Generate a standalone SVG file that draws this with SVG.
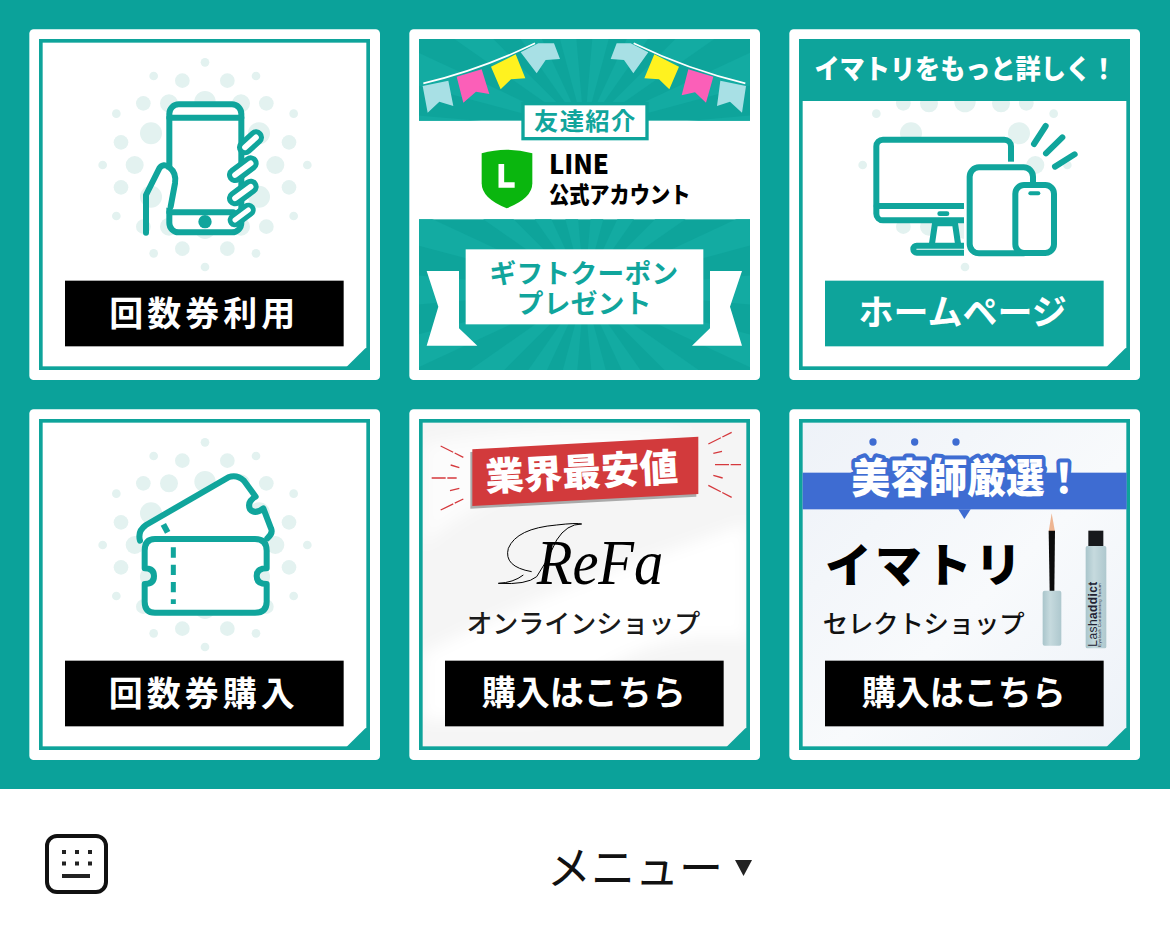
<svg xmlns="http://www.w3.org/2000/svg" width="1170" height="944" viewBox="0 0 1170 944">
<style>
text{font-family:"Noto Sans CJK JP","Noto Sans CJK SC",sans-serif;font-weight:700;text-anchor:middle}
.card{fill:#fff}
.frame{fill:none;stroke:#0ea49b;stroke-width:11}
.tab{fill:#0ea49b}
.ic{fill:none;stroke:#10a59c;stroke-width:18;stroke-linecap:round;stroke-linejoin:round}
.icw{fill:#fff;stroke:#10a59c;stroke-width:18;stroke-linecap:round;stroke-linejoin:round}
.d{fill:#e3f2f0}
.btn{fill:#000}
.btnt{fill:#fff;font-size:102px}
.ray{fill:#13aba2}
.t{fill:#10a59c}
.flag-b{fill:#a8e0e5}.flag-p{fill:#fb5fb8}.flag-y{fill:#fff21f}
.red{fill:none;stroke:#d5393d;stroke-width:4}
.f1{stroke:#10a59c;stroke-width:48;stroke-linecap:round;fill:none}
.f2{stroke:#fff;stroke-width:17;stroke-linecap:round;fill:none}
</style>
<defs>
<g id="cardbase">
<rect class="card" x="28" y="28" width="1052" height="1052" rx="13"/>
</g>
<path id="corner" d="M980,1040L1036,985L1050,982V1050H980Z" class="tab"/>
<g id="dots" class="d">
<circle cx="555" cy="127" r="13"/><circle cx="401" cy="168" r="13"/><circle cx="708" cy="168" r="13"/><circle cx="289" cy="281" r="13"/><circle cx="821" cy="281" r="13"/><circle cx="248" cy="435" r="13"/><circle cx="862" cy="435" r="13"/><circle cx="289" cy="588" r="13"/><circle cx="821" cy="588" r="13"/><circle cx="401" cy="700" r="13"/><circle cx="708" cy="700" r="13"/><circle cx="555" cy="741" r="13"/>
<circle cx="487" cy="182" r="22"/><circle cx="622" cy="182" r="22"/><circle cx="487" cy="686" r="22"/><circle cx="622" cy="686" r="22"/><circle cx="370" cy="250" r="22"/><circle cx="739" cy="250" r="22"/><circle cx="303" cy="367" r="22"/><circle cx="807" cy="367" r="22"/><circle cx="303" cy="502" r="22"/><circle cx="807" cy="502" r="22"/><circle cx="370" cy="620" r="22"/><circle cx="739" cy="620" r="22"/>
<circle cx="447" cy="250" r="27"/><circle cx="555" cy="245" r="32"/><circle cx="663" cy="250" r="27"/><circle cx="344" cy="435" r="27"/><circle cx="766" cy="435" r="27"/><circle cx="447" cy="620" r="27"/><circle cx="555" cy="625" r="32"/><circle cx="663" cy="620" r="27"/>
<circle cx="393" cy="340" r="33"/><circle cx="717" cy="340" r="33"/><circle cx="393" cy="530" r="33"/><circle cx="717" cy="530" r="33"/>
</g>
<path id="r" d="M0,0L800,-70V70Z" class="ray"/>
<g id="rays"><use href="#r"/><use href="#r" transform="rotate(20)"/><use href="#r" transform="rotate(40)"/><use href="#r" transform="rotate(60)"/><use href="#r" transform="rotate(80)"/><use href="#r" transform="rotate(100)"/><use href="#r" transform="rotate(120)"/><use href="#r" transform="rotate(140)"/><use href="#r" transform="rotate(160)"/><use href="#r" transform="rotate(180)"/><use href="#r" transform="rotate(200)"/><use href="#r" transform="rotate(220)"/><use href="#r" transform="rotate(240)"/><use href="#r" transform="rotate(260)"/><use href="#r" transform="rotate(280)"/><use href="#r" transform="rotate(300)"/><use href="#r" transform="rotate(320)"/><use href="#r" transform="rotate(340)"/></g>
<clipPath id="ct"><rect x="57" y="57" width="993" height="245"/></clipPath>
<clipPath id="cb"><rect x="57" y="598" width="993" height="452"/></clipPath>
<clipPath id="c5"><rect x="62" y="62" width="983" height="983"/></clipPath>
<linearGradient id="g6" x1="0" y1="0" x2="1" y2="1"><stop offset="0" stop-color="#eef2f8"/><stop offset=".55" stop-color="#f8fafc"/><stop offset="1" stop-color="#edf2f8"/></linearGradient>
<linearGradient id="b6" x1="0" y1="0" x2="1" y2="0"><stop offset="0" stop-color="#a9c5cb"/><stop offset=".4" stop-color="#c6dade"/><stop offset="1" stop-color="#aec8ce"/></linearGradient>
<filter id="soft" x="-20%" y="-20%" width="140%" height="140%"><feGaussianBlur stdDeviation="22"/></filter>
</defs>
<rect id="background" width="1170" height="789" fill="#0ba29a"/>
<rect id="footer" y="789" width="1170" height="155" fill="#fff"/>

<g id="card-use" transform="translate(20,20) scale(.33333)">
<use href="#cardbase"/>
<rect class="frame" x="62.500" y="62.500" width="982" height="982"/><use href="#corner"/>
<use href="#dots"/>
<rect class="ic" x="448" y="253" width="216" height="384" rx="28" style="fill:#fff"/>
<path class="ic" d="M448,293H664M448,577H640"/>
<circle cx="555" cy="605" r="20" fill="#10a59c"/>
<rect x="438" y="448" width="24" height="115" fill="#fff"/>
<path class="ic" d="M378,638V525L418,445Q430,428 448,442Q470,458 465,490L452,560"/>
<path class="f1" d="M675,382L708,352"/><path class="f2" d="M675,382L708,352"/>
<path class="f1" d="M645,465L692,430"/><path class="f2" d="M645,465L692,430"/>
<path class="f1" d="M645,535L692,500"/><path class="f2" d="M645,535L692,500"/>
<path class="f1" d="M645,600L685,570" style="stroke-width:44"/><path class="f2" d="M645,600L685,570" style="stroke-width:15"/>
<rect class="btn" x="135" y="782" width="836" height="197"/>
<text class="btnt" x="553" y="917" letter-spacing="12">回数券利用</text>
</g>

<g id="card-line" transform="translate(400,20) scale(.33333)">
<use href="#cardbase"/>
<rect class="tab" x="57" y="57" width="993" height="245"/>
<g clip-path="url(#ct)"><use href="#rays" transform="translate(553,330)"/></g>
<rect class="tab" x="57" y="598" width="993" height="452"/>
<g clip-path="url(#cb)"><use href="#rays" transform="translate(553,810)"/></g>
<path d="M70,190Q240,150 405,70" fill="none" stroke="#fff" stroke-width="5"/><path d="M1036,190Q866,150 701,70" fill="none" stroke="#fff" stroke-width="5"/>
<path class="flag-b" d="M68,198L145,182L160,258L118,245L83,278Z"/>
<path class="flag-p" d="M170,170L245,148L268,222L228,215L190,248Z"/>
<path class="flag-y" d="M273,140L347,103L376,175L333,178L302,208Z"/>
<path class="flag-b" d="M362,97L415,70H462L480,117L437,120L410,160Z"/>
<path class="flag-b" d="M1038,198L961,182L951,258L990,245L1026,278Z"/>
<path class="flag-p" d="M940,170L865,148L845,226L885,217L918,248Z"/>
<path class="flag-y" d="M837,140L763,103L733,175L777,178L808,208Z"/>
<path class="flag-b" d="M745,97L692,70H650L632,117L672,120L700,160Z"/>
<rect x="369" y="251" width="372" height="105" fill="#fff" stroke="#0ea49b" stroke-width="10"/>
<text class="t" x="556" y="329" font-size="73" letter-spacing="4">友達紹介</text>
<path d="M245,400Q320,378 397,400V490Q397,535 320,565Q245,535 245,490Z" fill="#0ab60e"/>
<path d="M304,432V495H344" fill="none" stroke="#fff" stroke-width="17"/>
<text x="447" y="461" font-size="78" style="text-anchor:start;font-weight:900" textLength="180" lengthAdjust="spacingAndGlyphs">LINE</text>
<text x="447" y="549" font-size="68" style="text-anchor:start;font-weight:900" textLength="424" lengthAdjust="spacingAndGlyphs">公式アカウント</text>
<path d="M80,753H177V925L232,977H80L115,860Z" fill="#fff"/><path d="M1026,753H930V925L876,977H1026L990,860Z" fill="#fff"/>
<rect x="197" y="688" width="713" height="225" fill="#fff"/>
<text class="t" x="552" y="788" font-size="80" letter-spacing="1">ギフトクーポン</text>
<text class="t" x="553" y="878" font-size="80" letter-spacing="1">プレゼント</text>
</g>

<g id="card-home" transform="translate(780,20) scale(.33333)">
<use href="#cardbase"/>
<g class="d"><circle cx="289" cy="281" r="13"/><circle cx="821" cy="281" r="13"/><circle cx="248" cy="435" r="13"/><circle cx="862" cy="435" r="13"/><circle cx="370" cy="250" r="22"/><circle cx="447" cy="250" r="27"/><circle cx="555" cy="245" r="32"/><circle cx="663" cy="250" r="27"/><circle cx="739" cy="250" r="22"/><circle cx="393" cy="340" r="33"/><circle cx="717" cy="340" r="33"/><circle cx="766" cy="435" r="27"/><circle cx="370" cy="620" r="22"/><circle cx="447" cy="620" r="27"/><circle cx="555" cy="625" r="32"/><circle cx="555" cy="741" r="13"/></g>
<rect class="frame" x="62.500" y="62.500" width="982" height="982"/><use href="#corner"/>
<rect class="tab" x="57" y="57" width="993" height="186"/>
<text x="556" y="178" font-size="82" fill="#fff" style="font-weight:900" textLength="905" lengthAdjust="spacingAndGlyphs">イマトリをもっと詳しく！</text>
<rect class="icw" x="289" y="359" width="404" height="242" rx="20"/>
<path d="M465,610L455,678H535L525,610Z" class="icw"/>
<rect class="icw" x="400" y="677" width="170" height="21" rx="10"/>
<path class="ic" d="M290,558H550"/>
<rect x="472" y="574" width="36" height="14" rx="7" fill="#10a59c"/>
<rect x="552" y="425" width="150" height="190" fill="#fff"/>
<rect x="552" y="425" width="25" height="295" fill="#fff"/>
<rect class="icw" x="569" y="442" width="190" height="258" rx="28"/>
<rect class="icw" x="706" y="495" width="116" height="204" rx="26"/>
<rect x="745" y="514" width="36" height="12" rx="6" fill="#10a59c"/>
<path class="ic" d="M762,372L797,318M798,400L847,352M825,440L884,403"/>
<rect class="tab" x="135" y="782" width="836" height="197"/>
<text class="btnt" x="548" y="916" style="font-size:105px">ホームページ</text>
</g>

<g id="card-buy" transform="translate(20,400) scale(.33333)">
<use href="#cardbase"/>
<rect class="frame" x="62.500" y="62.500" width="982" height="982"/><use href="#corner"/>
<use href="#dots"/>
<path d="M362,425Q350,395 378,372L625,232Q650,220 672,242L707,290Q680,305 690,328Q705,345 730,325L755,385Q760,402 742,418Z" fill="#fff"/>
<path class="ic" d="M360,422Q352,393 378,375L625,232Q650,222 672,242L707,290Q680,305 690,328Q705,345 730,325L753,385Q760,400 742,415"/>
<path class="ic" d="M430,373L443,397" style="stroke-linecap:butt"/>
<path class="icw" d="M405,417H705Q740,417 740,452V505Q710,505 710,528Q710,552 740,552V605Q740,638 705,638H405Q374,638 374,605V552Q402,552 402,528Q402,505 374,505V452Q374,417 405,417Z"/>
<path d="M460,442V612" fill="none" stroke="#10a59c" stroke-width="15" stroke-dasharray="31 21"/>
<rect class="btn" x="135" y="782" width="836" height="197"/>
<text class="btnt" x="551" y="917" letter-spacing="12">回数券購入</text>
</g>

<g id="card-refa" transform="translate(400,400) scale(.33333)">
<use href="#cardbase"/>
<rect x="62" y="62" width="983" height="983" fill="#f5f5f5"/>
<g clip-path="url(#c5)"><g filter="url(#soft)" fill="#fff">
<path d="M68,130Q400,70 880,90Q600,190 300,290Q150,360 68,440Z" opacity=".7"/>
<path d="M68,760Q400,590 700,490Q900,420 1040,370V720Q700,670 420,960H68Z"/>
</g></g>
<rect class="frame" x="62.500" y="62.500" width="982" height="982"/><use href="#corner"/>
<path d="M211,156L889,118V290L211,326Z" fill="#aaa"/>
<path d="M217,148L895,110V282L217,318Z" fill="#d23a3c"/>
<text x="545" y="258" font-size="116" fill="#fff" style="font-weight:900" transform="rotate(-3 545 215)">業界最安値</text>
<path class="red" d="M122,138L190,172M152,195L178,203M95,234H170M150,272L178,265M122,330L190,297M925,132L995,97M940,160L966,154M945,194H1023M940,226L968,234M925,256L995,292" stroke-dasharray="42 5 60 0"/>
<path d="M395,515Q310,500 325,445Q350,385 470,375Q530,368 545,372Q500,372 470,420Q445,480 410,530Q380,555 295,550Q340,548 370,525" fill="none" stroke="#000" stroke-width="3"/>
<text x="600" y="552" font-size="190" fill="#000" style="font-family:'Liberation Serif',serif;font-style:italic;font-weight:400" textLength="380" lengthAdjust="spacingAndGlyphs">ReFa</text>
<text x="550" y="699" font-size="78" fill="#1a1a1a" style="font-weight:500">オンラインショップ</text>
<rect class="btn" x="135" y="782" width="836" height="197"/>
<text class="btnt" x="551" y="916">購入はこちら</text>
</g>

<g id="card-select" transform="translate(780,400) scale(.33333)">
<use href="#cardbase"/>
<rect x="62" y="62" width="983" height="983" fill="url(#g6)"/>
<rect class="frame" x="62.500" y="62.500" width="982" height="982"/><use href="#corner"/>
<rect x="68" y="218" width="972" height="110" fill="#3e6cd2"/>
<path d="M535,328H572L553,357Z" fill="#3e6cd2"/>
<circle cx="279" cy="126" r="11" fill="#3e6cd2"/><circle cx="404" cy="126" r="11" fill="#3e6cd2"/><circle cx="528" cy="126" r="11" fill="#3e6cd2"/>
<text x="562" y="278" font-size="124" fill="#fff" stroke="#3e6cd2" stroke-width="24" stroke-linejoin="round" style="paint-order:stroke;font-weight:900" textLength="695" lengthAdjust="spacingAndGlyphs">美容師厳選！</text>
<text x="430" y="545" font-size="140" fill="#000" style="font-weight:900" textLength="590" lengthAdjust="spacing">イマトリ</text>
<text x="431" y="699" font-size="76" fill="#111" style="font-weight:500" textLength="606">セレクトショップ</text>
<path d="M815,340L806,395H825Z" fill="#eeb592"/>
<path d="M806,392H825L823,575H809Z" fill="#0c0c0c"/>
<rect x="788" y="572" width="56" height="165" rx="6" fill="url(#b6)"/>
<rect x="925" y="392" width="45" height="50" fill="#17191c"/>
<rect x="917" y="438" width="62" height="307" rx="5" fill="url(#b6)"/>
<text transform="translate(950,740) rotate(-90)" x="0" y="0" font-size="36" fill="#223" style="text-anchor:start;font-family:'Liberation Sans',sans-serif;font-weight:400" textLength="195">Lash<tspan font-weight="700">addict</tspan></text>
<text transform="translate(964,740) rotate(-90)" x="0" y="0" font-size="13" fill="#223" style="text-anchor:start;font-family:'Liberation Sans',sans-serif;font-weight:400" textLength="190">Eyelash Conditioning Serum</text>
<rect class="btn" x="135" y="782" width="836" height="197"/>
<text class="btnt" x="551" y="916">購入はこちら</text>
</g>

<g id="keyboard-icon" fill="#222">
<rect x="47" y="836" width="59" height="56" rx="10" fill="none" stroke="#111" stroke-width="4"/>
<rect x="62" y="850" width="4" height="4"/><rect x="75" y="850" width="4" height="4"/><rect x="88" y="850" width="4" height="4"/>
<rect x="62" y="861.500" width="4" height="4"/><rect x="75" y="861.500" width="4" height="4"/><rect x="88" y="861.500" width="4" height="4"/>
<rect x="62" y="874" width="28" height="4"/>
</g>
<g id="menu-label">
<text x="635" y="884" font-size="46" fill="#111" style="font-weight:400" textLength="176" lengthAdjust="spacingAndGlyphs">メニュー</text>
<path d="M735,860H752L743.500,876Z" fill="#222"/>
</g>
</svg>
